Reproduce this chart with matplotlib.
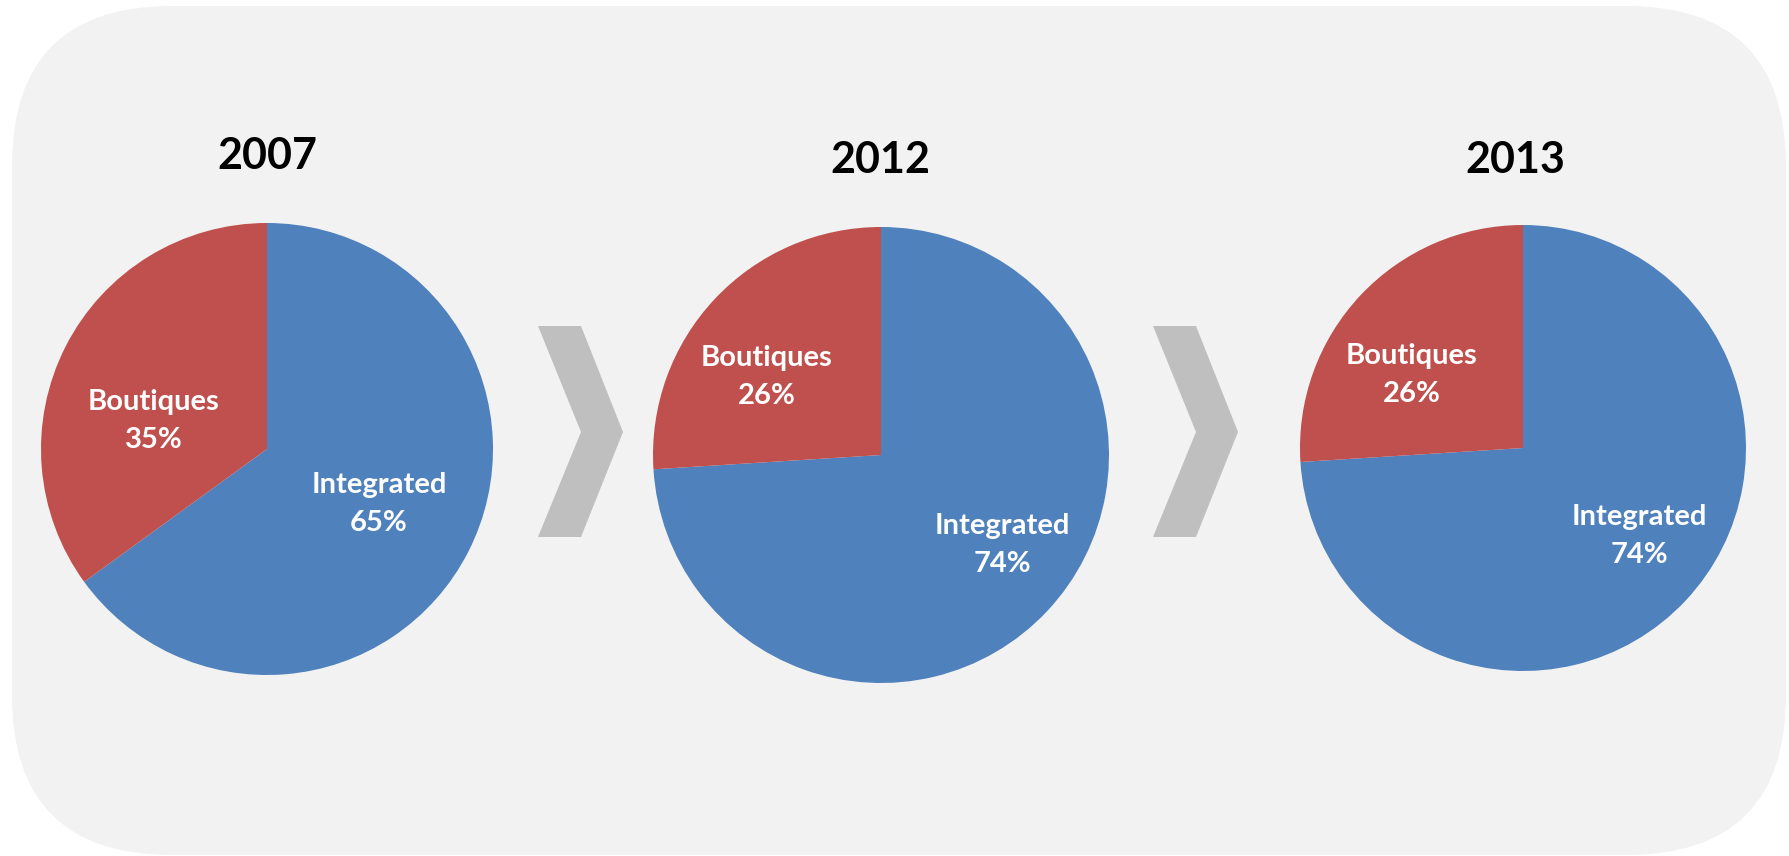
import matplotlib.pyplot as plt
from matplotlib.patches import FancyBboxPatch, Polygon

years = ['2007', '2012', '2013']
segments = ['Integrated', 'Boutiques']
integrated = [65, 74, 74]
boutiques = [35, 26, 26]
colors = ['#4F81BD', '#C0504D']

W, H = 1790, 856
plt.rcParams['font.family'] = ['Lato', 'DejaVu Sans']

# pie layout in pixels (x, y from top, radius)
pies = [(267, 449, 226), (881, 455, 228), (1523, 448, 223)]
title_pos = [(267, 156), (880, 160), (1515, 160)]
# label centres: (integrated, boutiques)
label_pos = [((379, 504), (154, 421)),
             ((1002, 545), (767, 377)),
             ((1639, 536), (1412, 375))]
chevrons_x = [538, 1153]

fig = plt.figure(figsize=(W / 100, H / 100), dpi=100)
ax = fig.add_axes([0, 0, 1, 1])

def fy(y):
    return H - y

bg = FancyBboxPatch((12, fy(855)), 1774, 849,
                    boxstyle='round,pad=0,rounding_size=160',
                    facecolor='#F2F2F2', edgecolor='none', zorder=0)
ax.add_patch(bg)

for x0 in chevrons_x:
    pts = [(x0, 326), (x0 + 43, 326), (x0 + 85, 432),
           (x0 + 43, 537), (x0, 537), (x0 + 43, 432)]
    ax.add_patch(Polygon([(px, fy(py)) for px, py in pts], closed=True,
                         facecolor='#BFBFBF', edgecolor='none', zorder=1))

for i, yr in enumerate(years):
    cx, cy, r = pies[i]
    ax.pie([integrated[i], boutiques[i]], colors=colors, startangle=90,
           counterclock=False, center=(cx, fy(cy)), radius=r,
           wedgeprops=dict(linewidth=0))
    ax.text(title_pos[i][0], fy(title_pos[i][1]), yr, ha='center', va='center',
            fontsize=31, fontweight='bold', color='black')
    vals = [integrated[i], boutiques[i]]
    for j, name in enumerate(segments):
        lx, ly = label_pos[i][j]
        ax.text(lx, fy(ly), f'{name}\n{vals[j]}%', ha='center', va='center',
                fontsize=21, fontweight='bold', color='white', linespacing=1.55)

ax.set_xlim(0, W)
ax.set_ylim(0, H)
ax.set_aspect('equal')
ax.axis('off')
fig.savefig('out.png', dpi=100, facecolor='white')
